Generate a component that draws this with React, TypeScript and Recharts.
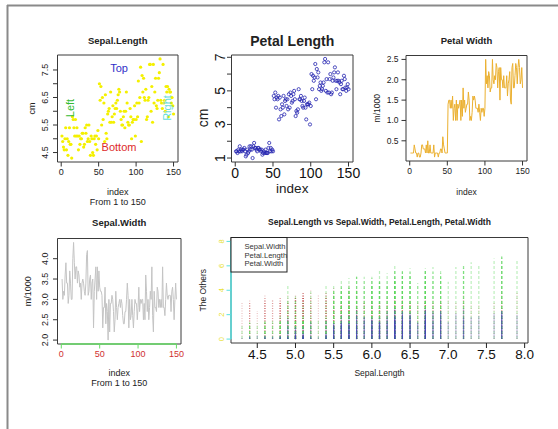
import React from 'react';
import { ScatterChart, Scatter, LineChart, Line, XAxis, YAxis, ReferenceArea, ReferenceLine } from 'recharts';

const FONT = '"Liberation Sans", Arial, Helvetica, sans-serif';
const W = 558;
const H = 429;

// iris data
const sepalLength = [
  5.1,4.9,4.7,4.6,5.0,5.4,4.6,5.0,4.4,4.9,5.4,4.8,4.8,4.3,5.8,5.7,5.4,5.1,5.7,5.1,5.4,5.1,4.6,5.1,4.8,5.0,5.0,5.2,5.2,4.7,4.8,5.4,5.2,5.5,4.9,5.0,5.5,4.9,4.4,5.1,5.0,4.5,4.4,5.0,5.1,4.8,5.1,4.6,5.3,5.0,
  7.0,6.4,6.9,5.5,6.5,5.7,6.3,4.9,6.6,5.2,5.0,5.9,6.0,6.1,5.6,6.7,5.6,5.8,6.2,5.6,5.9,6.1,6.3,6.1,6.4,6.6,6.8,6.7,6.0,5.7,5.5,5.5,5.8,6.0,5.4,6.0,6.7,6.3,5.6,5.5,5.5,6.1,5.8,5.0,5.6,5.7,5.7,6.2,5.1,5.7,
  6.3,5.8,7.1,6.3,6.5,7.6,4.9,7.3,6.7,7.2,6.5,6.4,6.8,5.7,5.8,6.4,6.5,7.7,7.7,6.0,6.9,5.6,7.7,6.3,6.7,7.2,6.2,6.1,6.4,7.2,7.4,7.9,6.4,6.3,6.1,7.7,6.3,6.4,6.0,6.9,6.7,6.9,5.8,6.8,6.7,6.7,6.3,6.5,6.2,5.9,
];
const sepalWidth = [
  3.5,3.0,3.2,3.1,3.6,3.9,3.4,3.4,2.9,3.1,3.7,3.4,3.0,3.0,4.0,4.4,3.9,3.5,3.8,3.8,3.4,3.7,3.6,3.3,3.4,3.0,3.4,3.5,3.4,3.2,3.1,3.4,4.1,4.2,3.1,3.2,3.5,3.6,3.0,3.4,3.5,2.3,3.2,3.5,3.8,3.0,3.8,3.2,3.7,3.3,
  3.2,3.2,3.1,2.3,2.8,2.8,3.3,2.4,2.9,2.7,2.0,3.0,2.2,2.9,2.9,3.1,3.0,2.7,2.2,2.5,3.2,2.8,2.5,2.8,2.9,3.0,2.8,3.0,2.9,2.6,2.4,2.4,2.7,2.7,3.0,3.4,3.1,2.3,3.0,2.5,2.6,3.0,2.6,2.3,2.7,3.0,2.9,2.9,2.5,2.8,
  3.3,2.7,3.0,2.9,3.0,3.0,2.5,2.9,2.5,3.6,3.2,2.7,3.0,2.5,2.8,3.2,3.0,3.8,2.6,2.2,3.2,2.8,2.8,2.7,3.3,3.2,2.8,3.0,2.8,3.0,2.8,3.8,2.8,2.8,2.6,3.0,3.4,3.1,3.0,3.1,3.1,3.1,2.7,3.2,3.3,3.0,2.5,3.0,3.4,3.0,
];
const petalLength = [
  1.4,1.4,1.3,1.5,1.4,1.7,1.4,1.5,1.4,1.5,1.5,1.6,1.4,1.1,1.2,1.5,1.3,1.4,1.7,1.5,1.7,1.5,1.0,1.7,1.9,1.6,1.6,1.5,1.4,1.6,1.6,1.5,1.5,1.4,1.5,1.2,1.3,1.4,1.3,1.5,1.3,1.3,1.3,1.6,1.9,1.4,1.6,1.4,1.5,1.4,
  4.7,4.5,4.9,4.0,4.6,4.5,4.7,3.3,4.6,3.9,3.5,4.2,4.0,4.7,3.6,4.4,4.5,4.1,4.5,3.9,4.8,4.0,4.9,4.7,4.3,4.4,4.8,5.0,4.5,3.5,3.8,3.7,3.9,5.1,4.5,4.5,4.7,4.4,4.1,4.0,4.4,4.6,4.0,3.3,4.2,4.2,4.2,4.3,3.0,4.1,
  6.0,5.1,5.9,5.6,5.8,6.6,4.5,6.3,5.8,6.1,5.1,5.3,5.5,5.0,5.1,5.3,5.5,6.7,6.9,5.0,5.7,4.9,6.7,4.9,5.7,6.0,4.8,4.9,5.6,5.8,6.1,6.4,5.6,5.1,5.6,6.1,5.6,5.5,4.8,5.4,5.6,5.1,5.1,5.9,5.7,5.2,5.0,5.2,5.4,5.1,
];
const petalWidth = [
  0.2,0.2,0.2,0.2,0.2,0.4,0.3,0.2,0.2,0.1,0.2,0.2,0.1,0.1,0.2,0.4,0.4,0.3,0.3,0.3,0.2,0.4,0.2,0.5,0.2,0.2,0.4,0.2,0.2,0.2,0.2,0.4,0.1,0.2,0.2,0.2,0.2,0.1,0.2,0.2,0.3,0.3,0.2,0.6,0.4,0.3,0.2,0.2,0.2,0.2,
  1.4,1.5,1.5,1.3,1.5,1.3,1.6,1.0,1.3,1.4,1.0,1.5,1.0,1.4,1.3,1.4,1.5,1.0,1.5,1.1,1.8,1.3,1.5,1.2,1.3,1.4,1.4,1.7,1.5,1.0,1.1,1.0,1.2,1.6,1.5,1.6,1.5,1.3,1.3,1.3,1.2,1.4,1.2,1.0,1.3,1.2,1.3,1.3,1.1,1.3,
  2.5,1.9,2.1,1.8,2.2,2.1,1.7,1.8,1.8,2.5,2.0,1.9,2.1,2.0,2.4,2.3,1.8,2.2,2.3,1.5,2.3,2.0,2.0,1.8,2.1,1.8,1.8,1.8,2.1,1.6,1.9,2.0,2.2,1.5,1.4,2.3,2.4,1.8,1.8,2.1,2.4,2.3,1.9,2.3,2.5,2.3,1.9,2.0,2.3,1.8,
];

const indexTicks = [0, 50, 100, 150];
const sepalLengthTicks = [4.5, 5, 5.5, 6, 6.5, 7, 7.5];
const sepalLengthLabels = [4.5, 5.5, 6.5, 7.5];
const petalLengthTicks = [1, 2, 3, 4, 5, 6, 7];
const petalLengthLabels = [1, 3, 5, 7];
const petalWidthTicks = [0.5, 1, 1.5, 2, 2.5];
const sepalWidthTicks = [2, 2.5, 3, 3.5, 4];
const othersTicks = [0, 2, 4, 6, 8];
const othersLimits = [0, 8];
const lengthTicks = [4.5, 5, 5.5, 6, 6.5, 7, 7.5, 8];
const legendLabels = ['Sepal.Width', 'Petal.Length', 'Petal.Width'];

const pad = (lo: number, hi: number): [number, number] => {
  const d = (hi - lo) * 0.04;
  return [lo - d, hi + d];
};
const minOf = (a: number[]) => Math.min(...a);
const maxOf = (a: number[]) => Math.max(...a);

const idxDomain = pad(1, sepalLength.length);
const slDomain = pad(minOf(sepalLength), maxOf(sepalLength));
const plDomain = pad(minOf(petalLength), maxOf(petalLength));
const pwDomain = pad(minOf(petalWidth), maxOf(petalWidth));
const swDomain = pad(minOf(sepalWidth), maxOf(sepalWidth));
const otDomain = pad(othersLimits[0], othersLimits[1]);

const rows = sepalLength.map((v, k) => ({
  i: k + 1,
  sl: v,
  sw: sepalWidth[k],
  pl: petalLength[k],
  pw: petalWidth[k],
}));

type Box = { l: number; r: number; t: number; b: number };
const P1: Box = { l: 57.5, r: 178, t: 55, b: 162 };
const P2: Box = { l: 231.5, r: 353, t: 55, b: 162 };
const P3: Box = { l: 406, r: 527, t: 55.5, b: 161 };
const P4: Box = { l: 57.5, r: 181, t: 238.5, b: 344 };
const P5: Box = { l: 231, r: 528, t: 237.5, b: 343 };

const AX = 1; // axis band size (must be > 0 for recharts to draw it)
const mg = (b: Box) => ({ top: b.t, left: b.l - AX, right: W - b.r, bottom: H - b.b - AX });

type TO = { fs: number; fill: string; d: number; show?: number[]; fmt?: (v: number) => string; weight?: string };
const has = (arr: number[] | undefined, v: number) => !arr || arr.some((s) => Math.abs(s - v) < 1e-9);

const xTick = (o: TO) => (p: any) => {
  const v = p.payload.value;
  if (!has(o.show, v)) return <g />;
  return (
    <text x={p.x} y={p.y + o.d} textAnchor="middle" fontSize={o.fs} fill={o.fill} fontFamily={FONT} fontWeight={o.weight}>
      {o.fmt ? o.fmt(v) : String(v)}
    </text>
  );
};
const yTickRot = (o: TO) => (p: any) => {
  const v = p.payload.value;
  if (!has(o.show, v)) return <g />;
  const X = p.x + o.d;
  const Y = p.y;
  return (
    <text x={X} y={Y} transform={`rotate(-90 ${X} ${Y})`} textAnchor="middle" fontSize={o.fs} fill={o.fill} fontFamily={FONT}>
      {o.fmt ? o.fmt(v) : String(v)}
    </text>
  );
};
const yTickH = (o: TO) => (p: any) => {
  const v = p.payload.value;
  return (
    <text x={p.x + o.d} y={p.y + o.fs * 0.35} textAnchor="end" fontSize={o.fs} fill={o.fill} fontFamily={FONT}>
      {o.fmt ? o.fmt(v) : String(v)}
    </text>
  );
};
const f1 = (v: number) => v.toFixed(1);

const abs: React.CSSProperties = { position: 'absolute', left: 0, top: 0 };
const BOX = '#3a3a3a';

function Frame({ x, y }: { x: [number, number]; y: [number, number] }) {
  return <ReferenceArea x1={x[0]} x2={x[1]} y1={y[0]} y2={y[1]} fill="none" fillOpacity={0} stroke={BOX} strokeWidth={1} ifOverflow="visible" />;
}

function T({ x, y, s, fs, fill = '#222', bold, rot, anchor = 'middle' }: any) {
  return (
    <text
      x={x}
      y={y}
      fontSize={fs}
      fill={fill}
      fontWeight={bold ? 'bold' : 'normal'}
      textAnchor={anchor}
      dominantBaseline="central"
      fontFamily={FONT}
      transform={rot ? `rotate(-90 ${x} ${y})` : undefined}
    >
      {s}
    </text>
  );
}

export default function App() {
  const cx1 = (P1.l + P1.r) / 2;
  const cx2 = (P2.l + P2.r) / 2;
  const cx3 = (P3.l + P3.r) / 2;
  const cx4 = (P4.l + P4.r) / 2;
  const cx5 = (P5.l + P5.r) / 2;
  return (
    <div style={{ position: 'absolute', left: 0, top: 0, width: W, height: H, background: '#fff', fontFamily: FONT, overflow: 'hidden' }}>
      {/* Panel 1: Sepal.Length scatter */}
      <div style={abs}>
        <ScatterChart width={W} height={H} margin={mg(P1)}>
          <XAxis type="number" dataKey="i" domain={idxDomain} ticks={indexTicks} allowDataOverflow height={AX} axisLine={false}
            tickLine={{ stroke: '#333' }} tickSize={4.5} tickMargin={0} tick={xTick({ fs: 9, fill: '#222', d: 8.5 })} interval={0} />
          <YAxis type="number" dataKey="sl" domain={slDomain} ticks={sepalLengthTicks} allowDataOverflow width={AX} axisLine={false}
            tickLine={{ stroke: '#333' }} tickSize={4.5} tickMargin={0} tick={yTickRot({ fs: 9, fill: '#222', d: -4.5, show: sepalLengthLabels, fmt: f1 })} interval={0} />
          <Scatter data={rows} isAnimationActive={false}
            shape={(p: any) => <circle cx={p.cx} cy={p.cy} r={1.6} fill="#f4f000" />} />
          <Frame x={idxDomain} y={slDomain} />
        </ScatterChart>
      </div>

      {/* Panel 2: Petal Length scatter */}
      <div style={abs}>
        <ScatterChart width={W} height={H} margin={mg(P2)}>
          <XAxis type="number" dataKey="i" domain={idxDomain} ticks={indexTicks} allowDataOverflow height={AX} axisLine={false}
            tickLine={{ stroke: '#333' }} tickSize={4.5} tickMargin={0} tick={xTick({ fs: 14, fill: '#111', d: 11 })} interval={0} />
          <YAxis type="number" dataKey="pl" domain={plDomain} ticks={petalLengthTicks} allowDataOverflow width={AX} axisLine={false}
            tickLine={{ stroke: '#333' }} tickSize={4.5} tickMargin={0} tick={yTickRot({ fs: 14, fill: '#111', d: -1.5, show: petalLengthLabels })} interval={0} />
          <Scatter data={rows} isAnimationActive={false}
            shape={(p: any) => <circle cx={p.cx} cy={p.cy} r={1.6} fill="none" stroke="#2424b0" strokeWidth={0.8} />} />
          <Frame x={idxDomain} y={plDomain} />
        </ScatterChart>
      </div>

      {/* Panel 3: Petal Width line */}
      <div style={abs}>
        <LineChart width={W} height={H} margin={mg(P3)} data={rows}>
          <XAxis type="number" dataKey="i" domain={idxDomain} ticks={indexTicks} allowDataOverflow height={AX} axisLine={false}
            tickLine={{ stroke: '#333' }} tickSize={4.5} tickMargin={0} tick={xTick({ fs: 8.5, fill: '#222', d: 8.5 })} interval={0} />
          <YAxis type="number" domain={pwDomain} ticks={petalWidthTicks} allowDataOverflow width={AX} axisLine={false}
            tickLine={{ stroke: '#333' }} tickSize={4.5} tickMargin={0} tick={yTickH({ fs: 8.5, fill: '#222', d: -3, fmt: f1 })} interval={0} />
          <Line dataKey="pw" type="linear" stroke="#ebb030" strokeWidth={1} dot={false} isAnimationActive={false} />
          <Frame x={idxDomain} y={pwDomain} />
        </LineChart>
      </div>

      {/* Panel 4: Sepal.Width line */}
      <div style={abs}>
        <LineChart width={W} height={H} margin={mg(P4)} data={rows}>
          <XAxis type="number" dataKey="i" domain={idxDomain} ticks={indexTicks} allowDataOverflow height={AX} axisLine={false}
            tickLine={{ stroke: '#66dd66' }} tickSize={4.5} tickMargin={0} tick={xTick({ fs: 9, fill: '#d03030', d: 8.5 })} interval={0} />
          <YAxis type="number" domain={swDomain} ticks={sepalWidthTicks} allowDataOverflow width={AX} axisLine={false}
            tickLine={{ stroke: '#333' }} tickSize={4.5} tickMargin={0} tick={yTickRot({ fs: 9, fill: '#222', d: -4.5, fmt: f1 })} interval={0} />
          <Line dataKey="sw" type="linear" stroke="#c4c4c4" strokeWidth={1} dot={false} isAnimationActive={false} />
          <Frame x={idxDomain} y={swDomain} />
          <ReferenceLine segment={[{ x: indexTicks[0], y: swDomain[0] }, { x: indexTicks[indexTicks.length - 1], y: swDomain[0] }]}
            stroke="#66dd66" strokeWidth={1.5} ifOverflow="visible" />
        </LineChart>
      </div>

      {/* Panel 5: type="h" lines */}
      <div style={abs}>
        <ScatterChart width={W} height={H} margin={mg(P5)}>
          <XAxis type="number" dataKey="sl" domain={slDomain} ticks={lengthTicks} allowDataOverflow height={AX} axisLine={false}
            tickLine={{ stroke: '#222' }} tickSize={5} tickMargin={0} tick={xTick({ fs: 13.5, fill: '#111', d: 10.5, fmt: f1 })} interval={0} />
          <YAxis type="number" dataKey="pw" domain={otDomain} ticks={othersTicks} allowDataOverflow width={AX} axisLine={false}
            tickLine={{ stroke: '#55e0e0' }} tickSize={4.5} tickMargin={0} tick={yTickRot({ fs: 7.5, fill: '#e8e030', d: -2.5 })} interval={0} />
          <Scatter data={rows} isAnimationActive={false} shape={() => <g />} />
          {rows.map((r, k) => (
            <ReferenceLine key={'sw' + k} segment={[{ x: r.sl, y: 0 }, { x: r.sl, y: r.sw }]} stroke="#c04040"
              strokeWidth={1.2} strokeDasharray="1 1.5" strokeOpacity={0.3} ifOverflow="visible" />
          ))}
          {rows.map((r, k) => (
            <ReferenceLine key={'pl' + k} segment={[{ x: r.sl, y: 0 }, { x: r.sl, y: r.pl }]} stroke="#5ad85a"
              strokeWidth={1.2} strokeDasharray="3 2" strokeOpacity={0.4} ifOverflow="visible" />
          ))}
          {rows.map((r, k) => (
            <ReferenceLine key={'pw' + k} segment={[{ x: r.sl, y: 0 }, { x: r.sl, y: r.pw }]} stroke="#4040b8"
              strokeWidth={1.2} strokeOpacity={0.28} ifOverflow="visible" />
          ))}
          <Frame x={slDomain} y={otDomain} />
          <ReferenceLine segment={[{ x: slDomain[0], y: othersTicks[0] }, { x: slDomain[0], y: othersTicks[othersTicks.length - 1] }]}
            stroke="#55e0e0" strokeWidth={1.5} ifOverflow="visible" />
        </ScatterChart>
      </div>

      {/* Text overlay */}
      <svg width={W} height={H} style={abs}>
        <line x1={7} y1={5.5} x2={W} y2={5.5} stroke="#8a8a8a" strokeWidth={2} />
        <line x1={7.5} y1={5} x2={7.5} y2={H} stroke="#8a8a8a" strokeWidth={2} />

        <T x={cx1} y={40} s="Sepal.Length" fs={9.5} bold />
        <T x={32} y={(P1.t + P1.b) / 2} s="cm" fs={9} rot />
        <T x={cx1} y={192} s="index" fs={9} />
        <T x={cx1} y={201.5} s="From 1 to 150" fs={9} />
        <T x={119} y={68} s="Top" fs={11} fill="#3030c8" />
        <T x={119} y={147} s="Bottom" fs={11} fill="#dd2a2a" />
        <T x={70} y={108} s="Left" fs={11} fill="#33bb33" rot />
        <T x={167} y={108} s="Right" fs={11} fill="#66dddd" rot />

        <T x={cx2} y={41} s="Petal Length" fs={14} bold />
        <T x={203} y={118} s="cm" fs={14} rot />
        <T x={cx2} y={188} s="index" fs={13.5} />

        <T x={cx3} y={40} s="Petal Width" fs={9.5} bold />
        <T x={377} y={(P3.t + P3.b) / 2} s="m/1000" fs={8.5} rot />
        <T x={cx3} y={192} s="index" fs={8.5} />

        <T x={cx4} y={222} s="Sepal.Width" fs={9.5} bold />
        <T x={28} y={(P4.t + P4.b) / 2} s="m/1000" fs={9} rot />
        <T x={cx4} y={373} s="index" fs={9} />
        <T x={cx4} y={383} s="From 1 to 150" fs={9} />

        <T x={cx5} y={222} s="Sepal.Length vs Sepal.Width, Petal.Length, Petal.Width" fs={8.5} bold />
        <T x={203} y={(P5.t + P5.b) / 2} s="The Others" fs={8.5} rot />
        <T x={cx5} y={373} s="Sepal.Length" fs={8.5} />

        <rect x={P5.l} y={P5.t} width={56} height={34.5} fill="#fff" stroke="#222" strokeWidth={1} />
        {legendLabels.map((s, k) => (
          <T key={s} x={244.5} y={246.5 + k * 8.7} s={s} fs={7.6} anchor="start" fill="#333" />
        ))}
      </svg>
    </div>
  );
}
